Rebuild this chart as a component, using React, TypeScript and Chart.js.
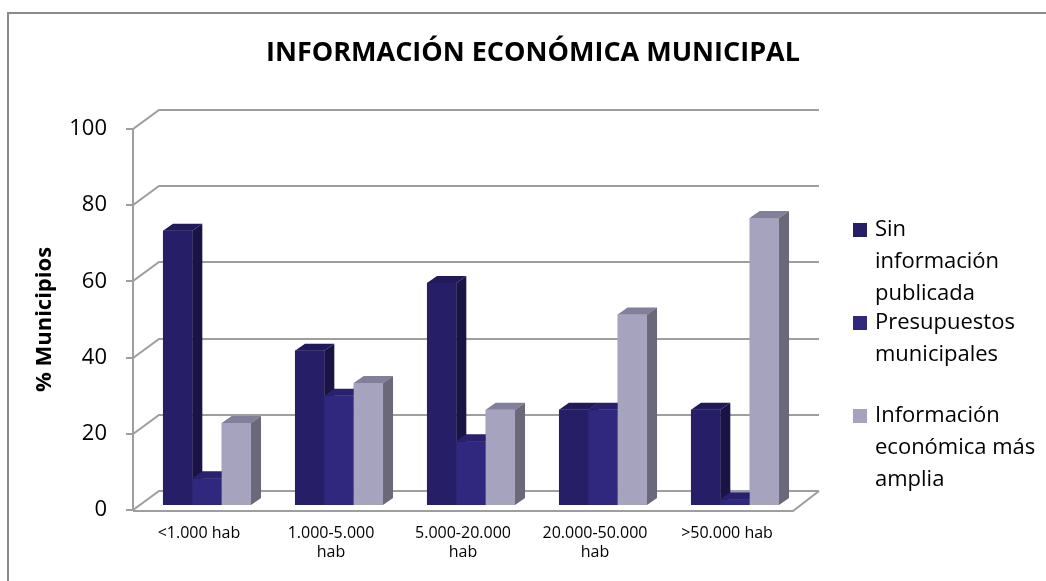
import React, { useEffect, useRef } from 'react';
import { Chart, registerables } from 'chart.js';

Chart.register(...registerables);

const chartTitle = 'INFORMACIÓN ECONÓMICA MUNICIPAL';
const yAxisTitle = '% Municipios';
const categories: (string | string[])[] = [
  '<1.000 hab',
  ['1.000-5.000', 'hab'],
  ['5.000-20.000', 'hab'],
  ['20.000-50.000', 'hab'],
  '>50.000 hab',
];
const sinInformacion = [72, 40.5, 58.3, 25, 25];
const presupuestos = [7, 28.7, 16.7, 25, 1.5];
const infoAmplia = [21.5, 32, 25, 50, 75.3];
const yTicks = [0, 20, 40, 60, 80, 100];
const seriesNames = [
  'Sin información publicada',
  'Presupuestos municipales',
  'Información económica más amplia',
];
const legendLines = [
  ['Sin', 'información', 'publicada'],
  ['Presupuestos', 'municipales'],
  ['Información', 'económica más', 'amplia'],
];

const FONT = "'Open Sans', sans-serif";
const frontColors = ['#261F68', '#30287F', '#A5A3BD'];
const topColors = ['#211A5A', '#29216E', '#817F99'];
const sideColors = ['#1A1446', '#221C5C', '#6A6879'];
const gridColor = '#9E9E9E';

const BAR_DX = 8;
const BAR_DY = -5;
const DEPTH_X = 10;
const DEPTH_Y = -7;
const WALL_DX = 26;
const WALL_DY = -19;

const threeDPlugin = {
  id: 'threeD',
  beforeDraw(chart: any) {
    const ctx = chart.ctx as CanvasRenderingContext2D;
    ctx.save();
    ctx.fillStyle = '#ffffff';
    ctx.fillRect(0, 0, chart.width, chart.height);
    ctx.strokeStyle = '#8a8a8a';
    ctx.lineWidth = 2;
    ctx.strokeRect(8, 13, chart.width + 20, chart.height + 20);
    // title
    ctx.fillStyle = '#000';
    ctx.font = `bold 27px ${FONT}`;
    ctx.textAlign = 'center';
    ctx.textBaseline = 'middle';
    ctx.fillText(chartTitle, 533, 53);
    // legend
    const boxTops = [223, 316, 409];
    const lineStarts = [230, 323, 416];
    ctx.font = `22px ${FONT}`;
    ctx.textAlign = 'left';
    legendLines.forEach((lines, i) => {
      ctx.fillStyle = frontColors[i];
      ctx.fillRect(853, boxTops[i], 14, 14);
      ctx.fillStyle = '#000';
      lines.forEach((t, j) => {
        ctx.fillText(t, 875, lineStarts[i] + j * 32);
      });
    });
    ctx.restore();
  },
  beforeDatasetsDraw(chart: any) {
    const ctx = chart.ctx as CanvasRenderingContext2D;
    const { chartArea } = chart;
    const y = chart.scales.y;
    const left = chartArea.left;
    const right = chartArea.right;
    ctx.save();
    ctx.strokeStyle = gridColor;
    ctx.lineWidth = 2;
    ctx.lineCap = 'butt';
    yTicks.forEach((v) => {
      const py = Math.round(y.getPixelForValue(v));
      ctx.beginPath();
      ctx.moveTo(left - 7, py);
      ctx.lineTo(left, py);
      ctx.lineTo(left + WALL_DX, py + WALL_DY);
      ctx.lineTo(right + WALL_DX, py + WALL_DY);
      ctx.stroke();
    });
    const y0 = Math.round(y.getPixelForValue(0));
    const y100 = Math.round(y.getPixelForValue(100));
    ctx.beginPath();
    ctx.moveTo(left, y100);
    ctx.lineTo(left, y0 + 1);
    ctx.stroke();
    ctx.beginPath();
    ctx.moveTo(left, y0 + 1);
    ctx.lineTo(right, y0 + 1);
    ctx.lineTo(right + WALL_DX, y0 + WALL_DY);
    ctx.stroke();
    ctx.restore();

    ctx.save();
    ctx.translate(BAR_DX, BAR_DY);
  },
  afterDatasetsDraw(chart: any) {
    const ctx = chart.ctx as CanvasRenderingContext2D;
    const metas = [0, 1, 2].map((i) => chart.getDatasetMeta(i));
    const n = categories.length;
    for (let c = 0; c < n; c++) {
      for (let i = 0; i < metas.length; i++) {
        const el = metas[i].data[c];
        if (!el) continue;
        const { x, y, base, width } = el.getProps(['x', 'y', 'base', 'width'], true);
        const l = x - width / 2;
        const r = x + width / 2;
        ctx.fillStyle = frontColors[i];
        ctx.fillRect(l, y, width, base - y);
        ctx.fillStyle = topColors[i];
        ctx.beginPath();
        ctx.moveTo(l, y);
        ctx.lineTo(r, y);
        ctx.lineTo(r + DEPTH_X, y + DEPTH_Y);
        ctx.lineTo(l + DEPTH_X, y + DEPTH_Y);
        ctx.closePath();
        ctx.fill();
        ctx.fillStyle = sideColors[i];
        ctx.beginPath();
        ctx.moveTo(r, y);
        ctx.lineTo(r + DEPTH_X, y + DEPTH_Y);
        ctx.lineTo(r + DEPTH_X, base + DEPTH_Y);
        ctx.lineTo(r, base);
        ctx.closePath();
        ctx.fill();
      }
    }
    ctx.restore();
  },
};

export default function App() {
  const canvasRef = useRef<HTMLCanvasElement | null>(null);

  useEffect(() => {
    if (!canvasRef.current) return;
    const seriesData = [sinInformacion, presupuestos, infoAmplia];
    const chart = new Chart(canvasRef.current, {
      type: 'bar',
      data: {
        labels: categories,
        datasets: seriesData.map((d, i) => ({
          label: seriesNames[i],
          data: d,
          backgroundColor: frontColors[i],
          borderWidth: 0,
          categoryPercentage: 0.667,
          barPercentage: 1,
          clip: false as any,
        })),
      },
      options: {
        responsive: false,
        animation: false,
        layout: { padding: { left: 28, top: 129, right: 253, bottom: 0 } },
        plugins: {
          legend: { display: false },
          title: { display: false },
          tooltip: { enabled: false },
        },
        scales: {
          x: {
            grid: { display: false, drawTicks: false },
            border: { display: false },
            ticks: {
              font: { family: FONT, size: 16 },
              color: '#000',
              padding: 14,
              maxRotation: 0,
              autoSkip: false,
            },
            afterFit: (s: any) => {
              s.height = 71;
            },
          },
          y: {
            min: 0,
            max: 100,
            afterBuildTicks: (s: any) => {
              s.ticks = yTicks.map((v) => ({ value: v }));
            },
            grid: { display: false, drawTicks: false },
            border: { display: false },
            ticks: {
              font: { family: FONT, size: 22 },
              color: '#000',
              padding: 26,
            },
            title: {
              display: true,
              text: yAxisTitle,
              font: { family: FONT, size: 22, weight: 'bold' },
              color: '#000',
              padding: { top: 4, bottom: 0 },
            },
            afterFit: (s: any) => {
              s.width = 105;
            },
          },
        },
      },
      plugins: [threeDPlugin],
    });
    return () => chart.destroy();
  }, []);

  return (
    <div style={{ position: 'fixed', left: 0, top: 0, width: 1046, height: 581, background: '#fff' }}>
      <canvas ref={canvasRef} width={1046} height={581} />
    </div>
  );
}
